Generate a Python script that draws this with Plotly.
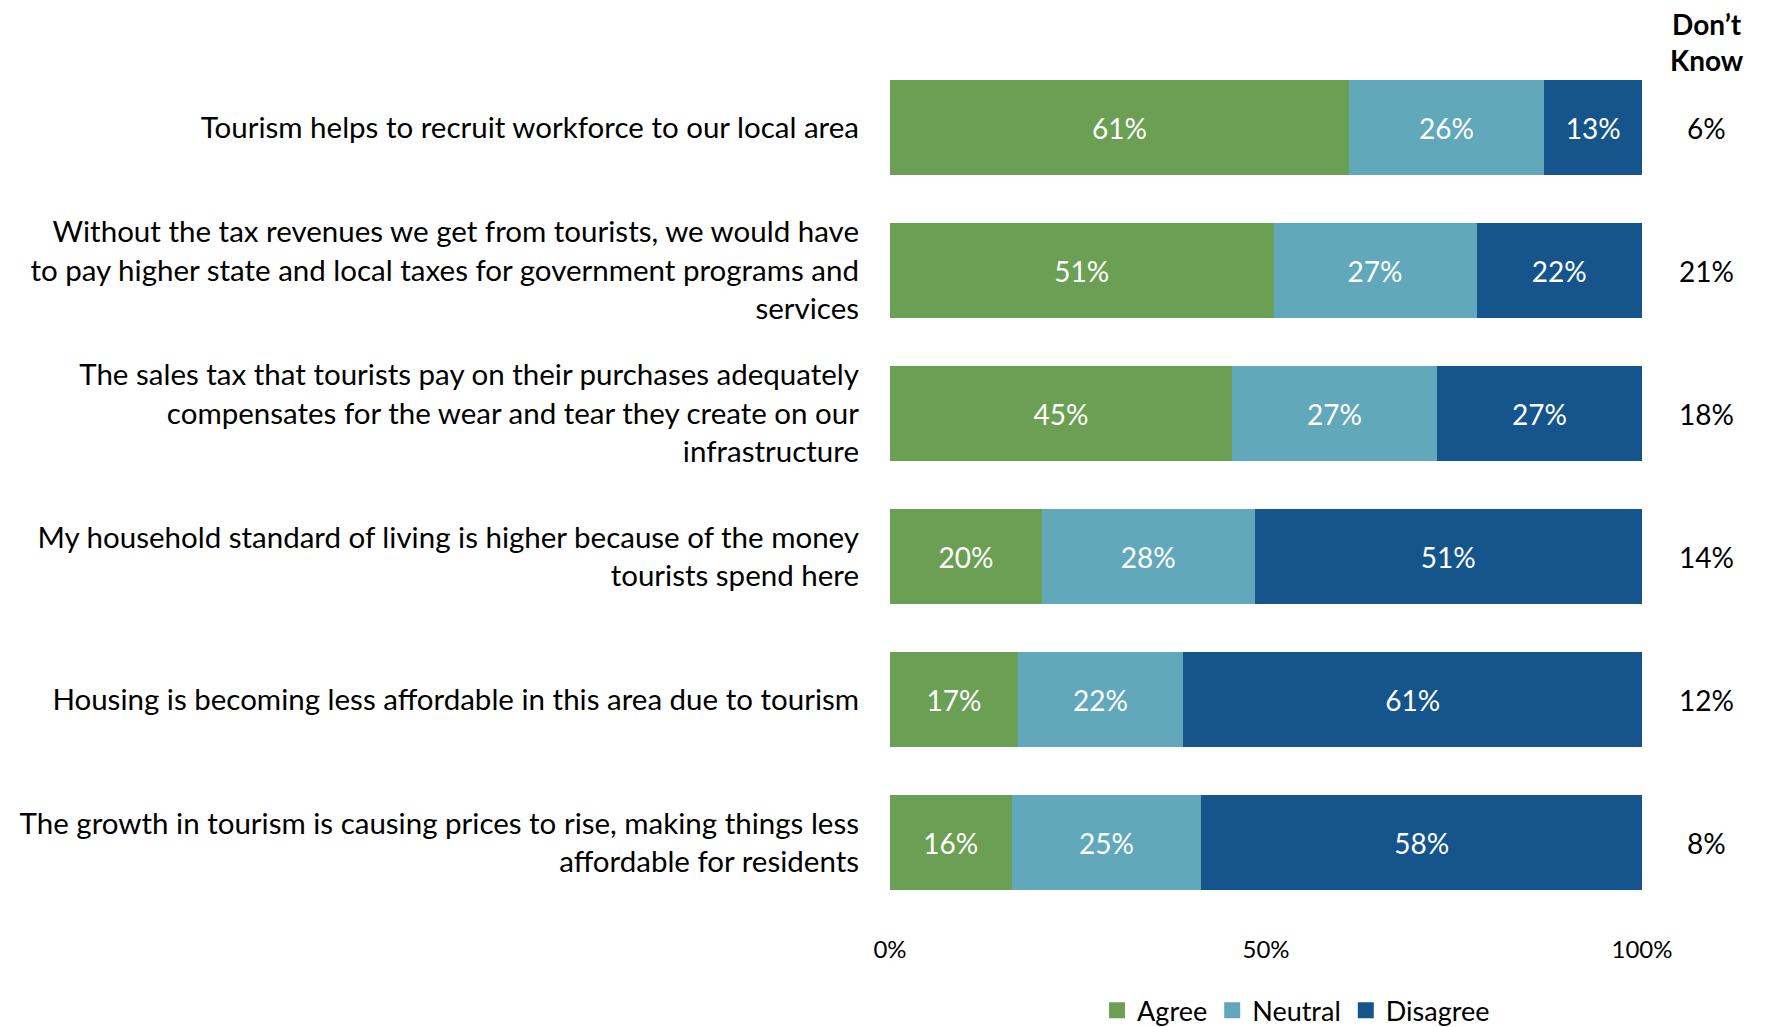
import plotly.graph_objects as go

statements = [
    "Tourism helps to recruit workforce to our local area",
    "Without the tax revenues we get from tourists, we would have<br>to pay higher state and local taxes for government programs and<br>services",
    "The sales tax that tourists pay on their purchases adequately<br>compensates for the wear and tear they create on our<br>infrastructure",
    "My household standard of living is higher because of the money<br>tourists spend here",
    "Housing is becoming less affordable in this area due to tourism",
    "The growth in tourism is causing prices to rise, making things less<br>affordable for residents",
]
agree = [61, 51, 45, 20, 17, 16]
neutral = [26, 27, 27, 28, 22, 25]
disagree = [13, 22, 27, 51, 61, 58]
dont_know = [6, 21, 18, 14, 12, 8]

series = [
    ("Agree", agree, "#6BA054"),
    ("Neutral", neutral, "#62A8BB"),
    ("Disagree", disagree, "#15558C"),
]

FONT = "Lato, 'Open Sans', sans-serif"

fig = go.Figure()
for name, vals, color in series:
    fig.add_trace(go.Bar(
        y=statements, x=vals, name=name, orientation="h",
        marker=dict(color=color, line=dict(width=0)),
        text=[f"{v}%" for v in vals],
        textposition="inside", insidetextanchor="middle", textangle=0,
        textfont=dict(color="white", size=28, family=FONT),
        showlegend=False,
    ))
    # bigger square legend keys
    fig.add_trace(go.Scatter(
        x=[None], y=[None], mode="markers", name=name,
        marker=dict(symbol="square", size=19, color=color),
    ))

# "Don't Know" column on the right
fig.add_annotation(x=1.086, y=1.016, xref="paper", yref="paper",
                   xanchor="center", yanchor="middle",
                   text="<b>Don’t<br>Know</b>", showarrow=False,
                   font=dict(size=28, color="black", family=FONT))
for s, d in zip(statements, dont_know):
    fig.add_annotation(x=1.086, y=s, xref="paper", yref="y",
                       xanchor="center", yanchor="middle",
                       text=f"{d}%", showarrow=False,
                       font=dict(size=28, color="black", family=FONT))

# page body adds an 8px margin, so the figure is a bit smaller
fig.update_layout(
    width=1766, height=1019,
    barmode="stack", barnorm="percent", bargap=0.33,
    plot_bgcolor="white", paper_bgcolor="white",
    margin=dict(l=882, r=132, t=48, b=113),
    font=dict(family=FONT, size=28, color="black"),
    legend=dict(orientation="h", x=0.54, xanchor="center",
                yref="container", y=0.016, yanchor="middle",
                traceorder="normal", font=dict(size=27), itemwidth=30),
    showlegend=True,
)
fig.update_xaxes(range=[0, 100], tickvals=[0, 50, 100], ticktext=["0%", "50%", "100%"],
                 showgrid=False, zeroline=False, showline=False, automargin=False,
                 tickfont=dict(size=24), ticklabelstandoff=19)
fig.update_yaxes(autorange="reversed", showgrid=False, showline=False, automargin=False,
                 tickfont=dict(size=29.5), ticklabelstandoff=30)

fig.write_html("out.html")
